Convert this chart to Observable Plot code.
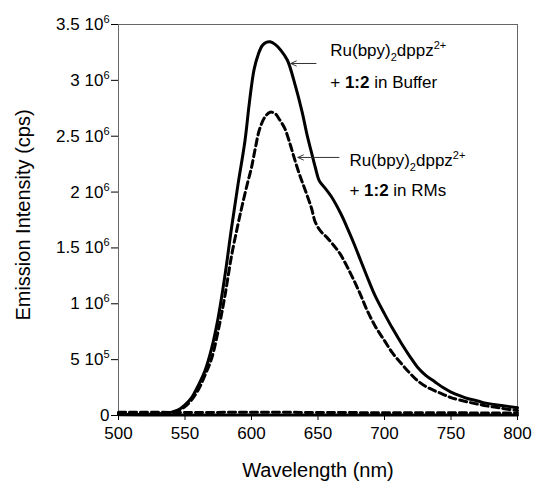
<!DOCTYPE html>
<html><head><meta charset="utf-8">
<script src="https://cdn.jsdelivr.net/npm/d3@7"></script>
<script src="https://cdn.jsdelivr.net/npm/@observablehq/plot@0.6"></script>
<style>
body{margin:0;background:#fff;}
#chart svg{font-family:"Liberation Sans",Arial,sans-serif;}
</style>
</head><body><div id="chart"></div>
<script>
// Ru(bpy)2dppz2+ + 1:2 in Buffer (solid)
const wlBuffer  = [500,520,530,540,545,550,555,560,565,570,575,580,585,590,595,598,600,602,605,608,611,614,618,622,627,633,638,642,645,648,651,655,660,667,672,677,682,687,693,700,706,713,719,725,731,738,744,750,757,763,770,775,788,800];
const intBuffer = [0.010,0.010,0.015,0.030,0.050,0.095,0.16,0.27,0.40,0.60,0.88,1.25,1.68,2.08,2.45,2.76,2.95,3.10,3.23,3.31,3.34,3.345,3.32,3.27,3.18,2.95,2.72,2.50,2.36,2.22,2.10,2.04,1.96,1.81,1.68,1.54,1.39,1.24,1.07,0.91,0.78,0.64,0.53,0.43,0.36,0.30,0.25,0.21,0.175,0.15,0.13,0.113,0.09,0.069];

// Ru(bpy)2dppz2+ + 1:2 in RMs (dashed)
const wlRMs  = [500,510,520,535,540,545,550,555,560,565,570,575,580,585,590,593,597,600,603,606,610,614,618,621,625,629,632,636,640,645,648,652,657,662,667,672,677,682,687,693,700,706,713,719,725,731,738,744,750,763,775,788,800];
const intRMs = [0.020,0.025,0.015,0.015,0.025,0.045,0.08,0.14,0.23,0.36,0.51,0.76,1.07,1.43,1.72,1.88,2.08,2.22,2.40,2.56,2.67,2.715,2.70,2.65,2.57,2.43,2.31,2.16,2.03,1.86,1.73,1.65,1.59,1.52,1.44,1.33,1.21,1.08,0.94,0.80,0.67,0.56,0.46,0.38,0.31,0.26,0.22,0.19,0.16,0.12,0.09,0.065,0.045];

// baseline traces near zero
const wlBase      = [500,520,550,600,650,700,750,800];
const intBaseSol  = [0.006,0.005,0.005,0.004,0.004,0.004,0.004,0.004];
const intBaseDash = [0.028,0.030,0.026,0.030,0.027,0.025,0.024,0.022];

const xTicks = [500,550,600,650,700,750,800];
const yTicks = [0,0.5e6,1e6,1.5e6,2e6,2.5e6,3e6,3.5e6];
const yTickLabels = ["0","5 10^5","1 10^6","1.5 10^6","2 10^6","2.5 10^6","3 10^6","3.5 10^6"];

// annotations (data coordinates)
const annotations = [
  {x:659.2, y:3.27e6, parts:[{t:"Ru(bpy)"},{t:"2",sub:true},{t:"dppz"},{t:"2+",sup:true}]},
  {x:659.2, y:2.976e6, parts:[{t:"+ "},{t:"1:2",bold:true},{t:" in Buffer"}]},
  {x:673.6, y:2.286e6, parts:[{t:"Ru(bpy)"},{t:"2",sub:true},{t:"dppz"},{t:"2+",sup:true}]},
  {x:673.6, y:2.018e6, parts:[{t:"+ "},{t:"1:2",bold:true},{t:" in RMs"}]}
];
const arrows = [
  {x1:648.5, y1:3.151e6, x2:629.6, y2:3.151e6},
  {x1:665.8, y1:2.310e6, x2:634.9, y2:2.310e6}
];

const toRows = (w, v) => w.map((d,i)=>({wl:d, v:v[i]*1e6}));
const buffer = toRows(wlBuffer, intBuffer);
const rms = toRows(wlRMs, intRMs);
const baseSol = toRows(wlBase, intBaseSol);
const baseDash = toRows(wlBase, intBaseDash);

const chart = Plot.plot({
  width: 534,
  height: 483,
  marginLeft: 118,
  marginRight: 17,
  marginTop: 24,
  marginBottom: 68,
  style: {fontSize: "17px", fontFamily: "Liberation Sans, Arial, sans-serif", background: "#fff", color: "#000"},
  x: {domain: [500, 800], ticks: xTicks, tickSize: 5, tickPadding: 6, label: null},
  y: {domain: [0, 3.5e6], ticks: yTicks, tickSize: 7, tickPadding: 2, label: null,
      tickFormat: d => yTickLabels[yTicks.indexOf(d)]},
  marks: [
    Plot.frame({stroke: "#666", strokeWidth: 1}),
    Plot.line(baseDash, {x: "wl", y: "v", stroke: "#000", strokeWidth: 3, strokeDasharray: "7,4"}),
    Plot.line(baseSol, {x: "wl", y: "v", stroke: "#000", strokeWidth: 3}),
    Plot.line(rms, {x: "wl", y: "v", stroke: "#000", strokeWidth: 3, strokeDasharray: "7,4", curve: "catmull-rom"}),
    Plot.line(buffer, {x: "wl", y: "v", stroke: "#000", strokeWidth: 3, curve: "catmull-rom"}),
    Plot.arrow(arrows, {x1: "x1", y1: "y1", x2: "x2", y2: "y2", stroke: "#333", strokeWidth: 1, headLength: 9, headAngle: 50}),
    Plot.text(annotations, {x: "x", y: "y", text: d => d.parts.map(p=>p.t).join(""), textAnchor: "start", fontSize: 17, fill: "#000", ariaDescription: "annotation"})
  ]
});
document.getElementById("chart").appendChild(chart);

const svg = d3.select(chart);
// superscripts in y tick labels
svg.selectAll('g[aria-label="y-axis tick label"] text').each(function(){
  const s = this.textContent;
  const parts = s.split("^");
  const t = d3.select(this);
  t.text(null);
  t.append("tspan").text(parts[0]);
  if (parts.length > 1) t.append("tspan").attr("dy", "-7px").attr("font-size", "11px").text(parts[1]);
});
// rich annotation text
svg.selectAll('g[aria-description="annotation"] text').each(function(d, i){
  const t = d3.select(this);
  t.text(null);
  let shift = 0;
  annotations[i].parts.forEach(p => {
    const ts = t.append("tspan").text(p.t);
    let target = p.sub ? 5 : p.sup ? -7 : 0;
    if (target !== shift) { ts.attr("dy", (target - shift) + "px"); shift = target; }
    if (p.sub || p.sup) ts.attr("font-size", "11px");
    if (p.bold) ts.attr("font-weight", "bold");
  });
});
// axis titles
svg.append("text").attr("x", 318).attr("y", 477).attr("text-anchor", "middle")
  .attr("font-size", 20).attr("fill", "#000").text("Wavelength (nm)");
svg.append("text").attr("transform", "translate(30,215) rotate(-90)").attr("text-anchor", "middle")
  .attr("font-size", 20).attr("fill", "#000").text("Emission Intensity (cps)");
</script>
</body></html>
